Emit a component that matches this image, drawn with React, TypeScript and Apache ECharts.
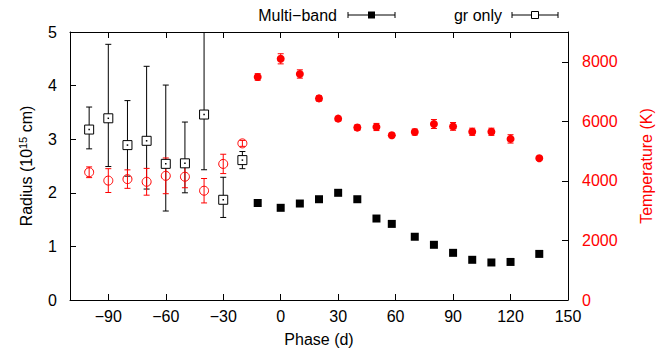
import React, { useEffect, useRef } from "react";
import * as echarts from "echarts";

// ---- data ----
const phaseTicks = [-90, -60, -30, 0, 30, 60, 90, 120, 150];
const radiusTicks = [0, 1, 2, 3, 4, 5];
const tempTicks = [0, 2000, 4000, 6000, 8000];

// Multi-band fits
const mbPhase = [-12, 0, 10, 20, 30, 40, 50, 58, 70, 80, 90, 100, 110, 120, 135];
const mbRadius = [1.81, 1.72, 1.8, 1.88, 2.0, 1.88, 1.52, 1.42, 1.18, 1.03, 0.88, 0.75, 0.7, 0.71, 0.86];
const mbTemp = [7490, 8100, 7590, 6770, 6090, 5790, 5810, 5530, 5640, 5910, 5830, 5650, 5650, 5410, 4760];
const mbTempErr = [110, 170, 140, 90, 80, 90, 120, 80, 100, 150, 130, 120, 120, 140, 70];

// gr-only fits
const grPhase = [-100, -90, -80, -70, -60, -50, -40, -30, -20];
const grRadius = [3.18, 3.39, 2.89, 2.97, 2.54, 2.55, 3.46, 1.87, 2.61];
const grRadiusLow = [2.82, 2.49, 2.31, 2.07, 1.66, 2.0, 2.43, 1.54, 2.45];
const grRadiusHigh = [3.6, 4.77, 3.72, 4.36, 4.01, 3.32, 5.6, 2.29, 2.77];
const grTemp = [4290, 4010, 4060, 3970, 4170, 4140, 3670, 4570, 5260];
const grTempErr = [180, 400, 310, 450, 600, 370, 410, 325, 100];

const FONT = "'Liberation Sans', Arial, Helvetica, sans-serif";
const RED = "#ff0000";

function errRender(capW: number, color: string) {
  return (params: any, api: any) => {
    const x = api.value(0);
    const lo = api.value(1);
    const hi = api.value(2);
    const p1 = api.coord([x, lo]);
    const p2 = api.coord([x, hi]);
    const st = { stroke: color, lineWidth: 1 };
    return {
      type: "group",
      children: [
        { type: "line", shape: { x1: p1[0], y1: p1[1], x2: p2[0], y2: p2[1] }, style: st },
        { type: "line", shape: { x1: p1[0] - capW, y1: p1[1], x2: p1[0] + capW, y2: p1[1] }, style: st },
        { type: "line", shape: { x1: p2[0] - capW, y1: p2[1], x2: p2[0] + capW, y2: p2[1] }, style: st },
      ],
    };
  };
}

const minus = (v: number) => String(v).replace("-", "\u2212");

function legendItem(textRight: number, lineX1: number, lineX2: number, y: number, label: string, filled: boolean) {
  const mid = (lineX1 + lineX2) / 2;
  const st = { stroke: "#000", lineWidth: 1 };
  return [
    {
      type: "text",
      x: textRight,
      y,
      style: { text: label, font: `16px ${FONT}`, fill: "#000", align: "right", verticalAlign: "middle" },
    },
    { type: "line", shape: { x1: lineX1, y1: y, x2: lineX2, y2: y }, style: st },
    { type: "line", shape: { x1: lineX1, y1: y - 3, x2: lineX1, y2: y + 3 }, style: st },
    { type: "line", shape: { x1: lineX2, y1: y - 3, x2: lineX2, y2: y + 3 }, style: st },
    {
      type: "rect",
      shape: { x: mid - 3.5, y: y - 3.5, width: 7, height: 7 },
      style: filled ? { fill: "#000" } : { fill: "#fff", stroke: "#000", lineWidth: 1 },
    },
  ];
}

export default function App() {
  const ref = useRef<HTMLDivElement>(null);
  useEffect(() => {
    if (!ref.current) return;
    const chart = echarts.init(ref.current, undefined, { renderer: "svg" });

    const tickStyle = { show: true, inside: true, length: 6, lineStyle: { color: "#000", width: 1 } };
    const axisLine = { show: true, onZero: false, lineStyle: { color: "#000", width: 1 } };

    const option: any = {
      animation: false,
      backgroundColor: "#fff",
      textStyle: { fontFamily: FONT },
      grid: { left: 70, right: 97, top: 32, bottom: 54, containLabel: false },
      xAxis: [
        {
          type: "value",
          position: "bottom",
          min: -110,
          max: 150,
          axisLine,
          axisTick: { ...tickStyle, customValues: phaseTicks },
          axisLabel: {
            customValues: phaseTicks,
            formatter: minus,
            color: "#000",
            fontSize: 16,
            fontFamily: FONT,
            margin: 8,
          },
          splitLine: { show: false },
          name: "Phase (d)",
          nameLocation: "middle",
          nameGap: 31,
          nameTextStyle: { color: "#000", fontSize: 16, fontFamily: FONT },
        },
        {
          type: "value",
          position: "top",
          min: -110,
          max: 150,
          axisLine,
          axisTick: { ...tickStyle, customValues: phaseTicks },
          axisLabel: { show: false, customValues: phaseTicks },
          splitLine: { show: false },
        },
      ],
      yAxis: [
        {
          type: "value",
          position: "left",
          min: 0,
          max: 5,
          axisLine,
          axisTick: { ...tickStyle, customValues: radiusTicks },
          axisLabel: {
            customValues: radiusTicks,
            formatter: (v: number) => String(v),
            color: "#000",
            fontSize: 16,
            fontFamily: FONT,
            margin: 13,
          },
          splitLine: { show: false },
          name: "Radius (10{sup|15} cm)",
          nameLocation: "middle",
          nameRotate: 90,
          nameGap: 34,
          nameTextStyle: {
            color: "#000",
            fontSize: 16,
            fontFamily: FONT,
            rich: {
              sup: { fontSize: 11, fontFamily: FONT, color: "#000", verticalAlign: "top", padding: [0, 0, 8, 0] },
            },
          },
        },
        {
          type: "value",
          position: "right",
          min: 0,
          max: 9000,
          axisLine,
          axisTick: { ...tickStyle, customValues: tempTicks },
          axisLabel: {
            customValues: tempTicks,
            formatter: (v: number) => String(v),
            color: RED,
            fontSize: 16,
            fontFamily: FONT,
            margin: 14,
          },
          splitLine: { show: false },
          name: "Temperature (K)",
          nameLocation: "middle",
          nameRotate: 90,
          nameGap: 70,
          nameTextStyle: { color: RED, fontSize: 16, fontFamily: FONT },
        },
      ],
      graphic: [
        ...legendItem(337, 348, 395, 15, "Multi\u2212band", true),
        ...legendItem(502, 512, 558, 15, "gr only", false),
      ],
      series: [
        {
          type: "custom",
          name: "grRadiusErr",
          xAxisIndex: 0,
          yAxisIndex: 0,
          clip: true,
          renderItem: errRender(3, "#000"),
          encode: { x: 0, y: [1, 2] },
          data: grPhase.map((p, i) => [p, grRadiusLow[i], grRadiusHigh[i]]),
          z: 2,
        },
        {
          type: "custom",
          name: "grTempErr",
          xAxisIndex: 0,
          yAxisIndex: 1,
          clip: true,
          renderItem: errRender(3, RED),
          encode: { x: 0, y: [1, 2] },
          data: grPhase.map((p, i) => [p, grTemp[i] - grTempErr[i], grTemp[i] + grTempErr[i]]),
          z: 2,
        },
        {
          type: "custom",
          name: "mbTempErr",
          xAxisIndex: 0,
          yAxisIndex: 1,
          clip: true,
          renderItem: errRender(3, RED),
          encode: { x: 0, y: [1, 2] },
          data: mbPhase.map((p, i) => [p, mbTemp[i] - mbTempErr[i], mbTemp[i] + mbTempErr[i]]),
          z: 2,
        },
        {
          type: "scatter",
          name: "gr only radius",
          xAxisIndex: 0,
          yAxisIndex: 0,
          symbol: "rect",
          symbolSize: 9,
          itemStyle: { color: "#fff", borderColor: "#000", borderWidth: 1, opacity: 1 },
          data: grPhase.map((p, i) => [p, grRadius[i]]),
          z: 3,
        },
        {
          type: "scatter",
          name: "gr only temp",
          xAxisIndex: 0,
          yAxisIndex: 1,
          symbol: "circle",
          symbolSize: 9,
          itemStyle: { color: "rgba(255,255,255,0)", borderColor: RED, borderWidth: 1, opacity: 1 },
          data: grPhase.map((p, i) => [p, grTemp[i]]),
          z: 4,
        },
        {
          type: "scatter",
          name: "gr only dot",
          xAxisIndex: 0,
          yAxisIndex: 0,
          symbol: "rect",
          symbolSize: 1.5,
          itemStyle: { color: "#000", opacity: 1 },
          data: grPhase.map((p, i) => [p, grRadius[i]]),
          z: 4,
        },
        {
          type: "scatter",
          name: "Multi-band radius",
          xAxisIndex: 0,
          yAxisIndex: 0,
          symbol: "rect",
          symbolSize: 8,
          itemStyle: { color: "#000", opacity: 1 },
          data: mbPhase.map((p, i) => [p, mbRadius[i]]),
          z: 3,
        },
        {
          type: "scatter",
          name: "Multi-band temp",
          xAxisIndex: 0,
          yAxisIndex: 1,
          symbol: "circle",
          symbolSize: 8,
          itemStyle: { color: RED, opacity: 1 },
          data: mbPhase.map((p, i) => [p, mbTemp[i]]),
          z: 3,
        },
      ],
    };
    chart.setOption(option);
    return () => chart.dispose();
  }, []);
  return <div ref={ref} style={{ position: "fixed", left: 0, top: 0, width: 665, height: 354 }} />;
}
